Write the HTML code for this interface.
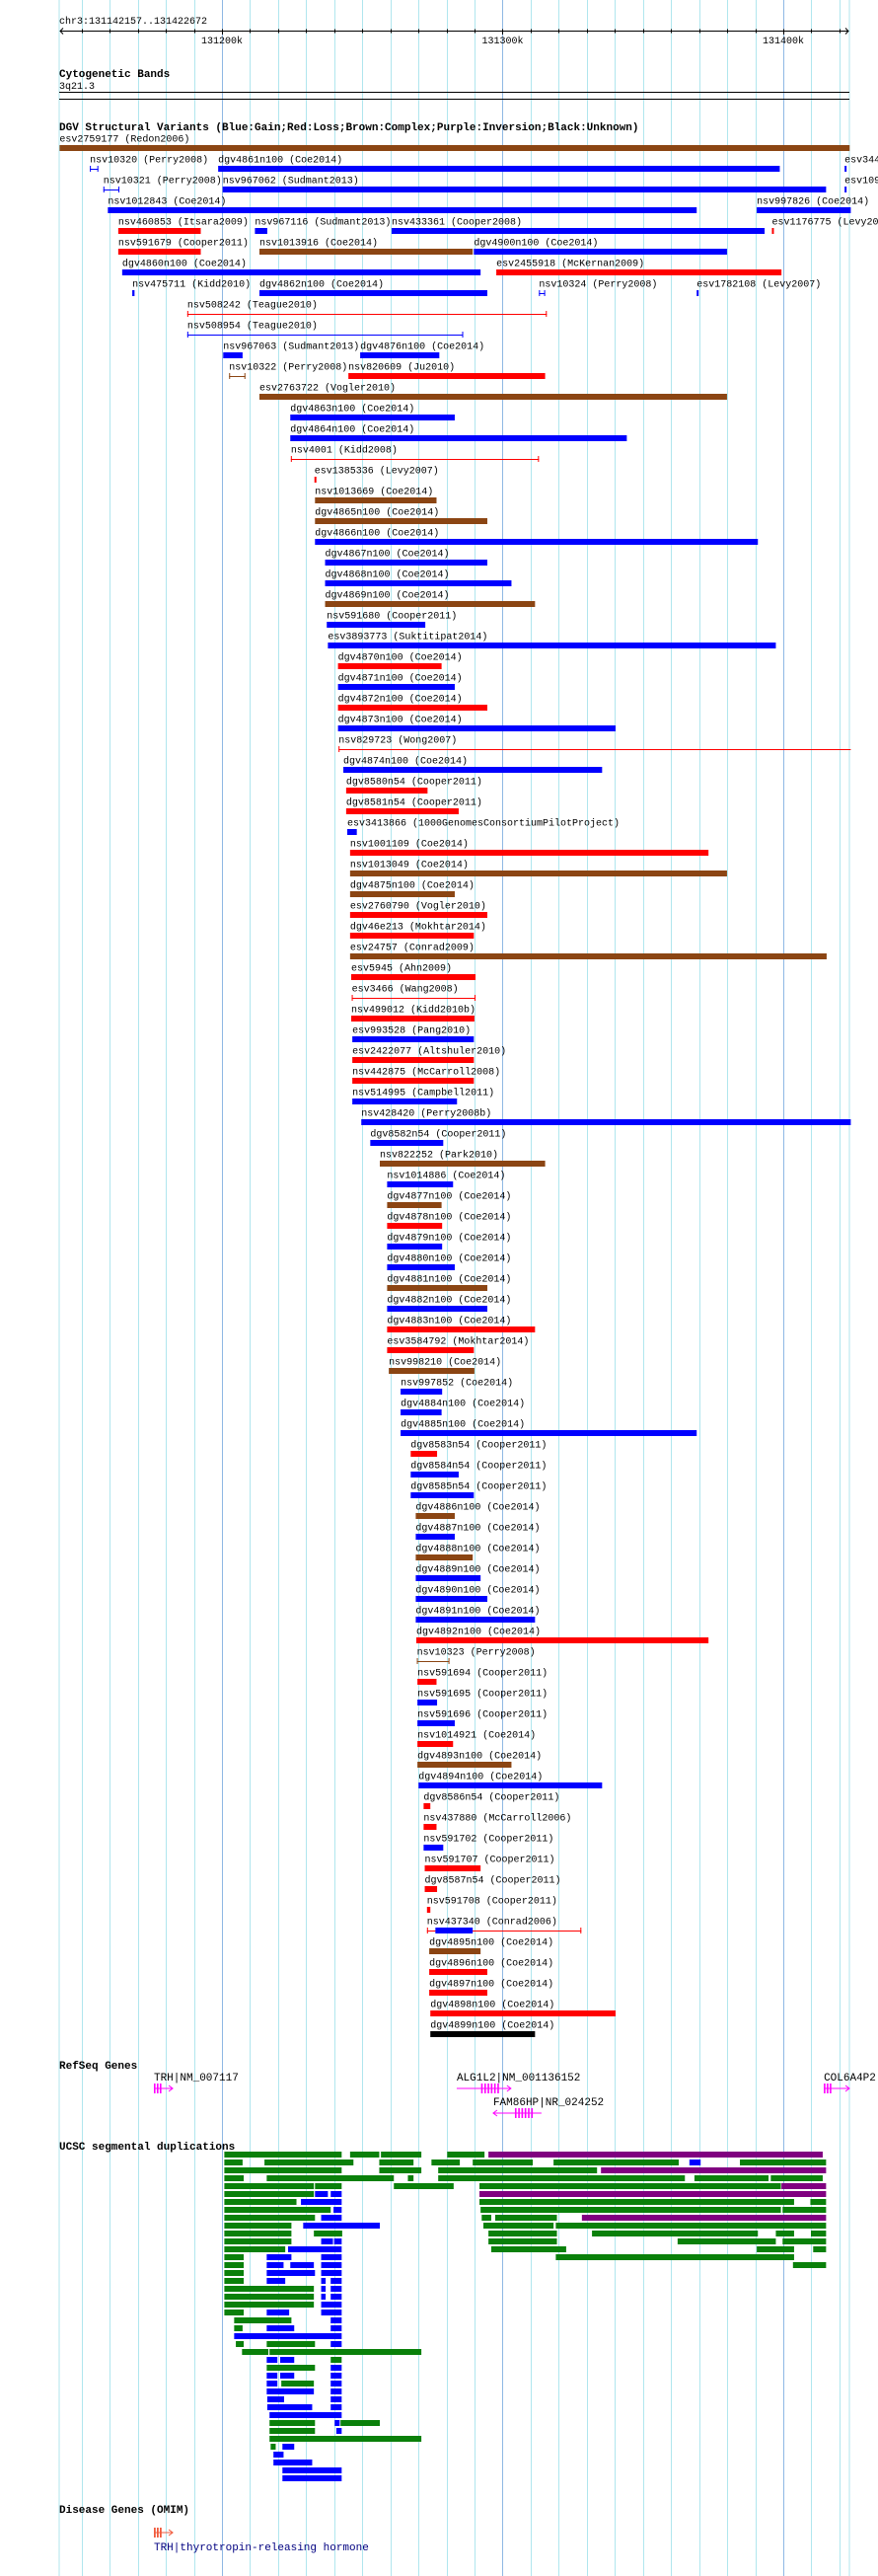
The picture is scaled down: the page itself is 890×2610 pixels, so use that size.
<!DOCTYPE html>
<html><head><meta charset="utf-8"><title>DGV browser view chr3:131142157..131422672</title>
<style>
html,body{margin:0;padding:0;background:#fff;}
svg{display:block;}
text{font-family:"Liberation Mono",monospace;font-size:10px;fill:#000;}
.t{font-weight:bold;font-size:11px;}
</style></head>
<body>
<svg id="chart" width="890" height="2610" viewBox="0 0 890 2610" xmlns="http://www.w3.org/2000/svg">
<g id="grid"></g>
<g id="axis"></g>
<text x="60" y="24">chr3:131142157..131422672</text>
<text class="t" x="60" y="78">Cytogenetic Bands</text>
<text x="60" y="90">3q21.3</text>
<line x1="60" y1="93.5" x2="861" y2="93.5" stroke="#000"/>
<line x1="60" y1="100.5" x2="861" y2="100.5" stroke="#000"/>
<text class="t" x="60" y="132">DGV Structural Variants (Blue:Gain;Red:Loss;Brown:Complex;Purple:Inversion;Black:Unknown)</text>
<g id="dgv"></g>
<text class="t" x="60" y="2096">RefSeq Genes</text>
<g id="genes"></g>
<text class="t" x="60" y="2178">UCSC segmental duplications</text>
<g id="segdup"></g>
<text class="t" x="60" y="2546">Disease Genes (OMIM)</text>
<g id="omim"></g>
</svg>
<script>
// ---- data (kb offsets from view start 131142.157 kb) ----
const viewStart = 131142.157;
const viewEnd = 131422.672;
const tickLabels = ["131200k","131300k","131400k"];
const tickValues = [131200,131300,131400];

// DGV variants: row index, name, start, end, color(b=gain,r=loss,n=complex), kind(bar/line)
const dgvRows = [0,1,1,1,2,2,2,3,3,4,4,4,4,5,5,5,6,6,7,7,7,7,8,9,10,10,11,11,12,13,14,15,16,17,18,19,20,21,22,23,24,25,26,27,28,29,30,31,32,33,34,35,36,37,38,39,40,41,42,43,44,45,46,47,48,49,50,51,52,53,54,55,56,57,58,59,60,61,62,63,64,65,66,67,68,69,70,71,72,73,74,75,76,77,78,79,80,81,82,83,84,85,86,86,87,88,89,90,91];
const dgvNames = ["esv2759177 (Redon2006)","nsv10320 (Perry2008)","dgv4861n100 (Coe2014)","esv344","nsv10321 (Perry2008)","nsv967062 (Sudmant2013)","esv109","nsv1012843 (Coe2014)","nsv997826 (Coe2014)","nsv460853 (Itsara2009)","nsv967116 (Sudmant2013)","nsv433361 (Cooper2008)","esv1176775 (Levy2007)","nsv591679 (Cooper2011)","nsv1013916 (Coe2014)","dgv4900n100 (Coe2014)","dgv4860n100 (Coe2014)","esv2455918 (McKernan2009)","nsv475711 (Kidd2010)","dgv4862n100 (Coe2014)","nsv10324 (Perry2008)","esv1782108 (Levy2007)","nsv508242 (Teague2010)","nsv508954 (Teague2010)","nsv967063 (Sudmant2013)","dgv4876n100 (Coe2014)","nsv10322 (Perry2008)","nsv820609 (Ju2010)","esv2763722 (Vogler2010)","dgv4863n100 (Coe2014)","dgv4864n100 (Coe2014)","nsv4001 (Kidd2008)","esv1385336 (Levy2007)","nsv1013669 (Coe2014)","dgv4865n100 (Coe2014)","dgv4866n100 (Coe2014)","dgv4867n100 (Coe2014)","dgv4868n100 (Coe2014)","dgv4869n100 (Coe2014)","nsv591680 (Cooper2011)","esv3893773 (Suktitipat2014)","dgv4870n100 (Coe2014)","dgv4871n100 (Coe2014)","dgv4872n100 (Coe2014)","dgv4873n100 (Coe2014)","nsv829723 (Wong2007)","dgv4874n100 (Coe2014)","dgv8580n54 (Cooper2011)","dgv8581n54 (Cooper2011)","esv3413866 (1000GenomesConsortiumPilotProject)","nsv1001109 (Coe2014)","nsv1013049 (Coe2014)","dgv4875n100 (Coe2014)","esv2760790 (Vogler2010)","dgv46e213 (Mokhtar2014)","esv24757 (Conrad2009)","esv5945 (Ahn2009)","esv3466 (Wang2008)","nsv499012 (Kidd2010b)","esv993528 (Pang2010)","esv2422077 (Altshuler2010)","nsv442875 (McCarroll2008)","nsv514995 (Campbell2011)","nsv428420 (Perry2008b)","dgv8582n54 (Cooper2011)","nsv822252 (Park2010)","nsv1014886 (Coe2014)","dgv4877n100 (Coe2014)","dgv4878n100 (Coe2014)","dgv4879n100 (Coe2014)","dgv4880n100 (Coe2014)","dgv4881n100 (Coe2014)","dgv4882n100 (Coe2014)","dgv4883n100 (Coe2014)","esv3584792 (Mokhtar2014)","nsv998210 (Coe2014)","nsv997852 (Coe2014)","dgv4884n100 (Coe2014)","dgv4885n100 (Coe2014)","dgv8583n54 (Cooper2011)","dgv8584n54 (Cooper2011)","dgv8585n54 (Cooper2011)","dgv4886n100 (Coe2014)","dgv4887n100 (Coe2014)","dgv4888n100 (Coe2014)","dgv4889n100 (Coe2014)","dgv4890n100 (Coe2014)","dgv4891n100 (Coe2014)","dgv4892n100 (Coe2014)","nsv10323 (Perry2008)","nsv591694 (Cooper2011)","nsv591695 (Cooper2011)","nsv591696 (Cooper2011)","nsv1014921 (Coe2014)","dgv4893n100 (Coe2014)","dgv4894n100 (Coe2014)","dgv8586n54 (Cooper2011)","nsv437880 (McCarroll2006)","nsv591702 (Cooper2011)","nsv591707 (Cooper2011)","dgv8587n54 (Cooper2011)","nsv591708 (Cooper2011)","nsv437340 (Conrad2006)","","dgv4895n100 (Coe2014)","dgv4896n100 (Coe2014)","dgv4897n100 (Coe2014)","dgv4898n100 (Coe2014)","dgv4899n100 (Coe2014)"];
const dgvStarts = [0,10.8,56.5,279.7,15.6,58.1,279.7,17.2,248.4,20.9,69.6,118.3,253.8,20.9,71.2,147.6,22.3,155.6,25.9,71.2,170.8,227.0,45.5,45.5,58.3,107.1,60.4,102.9,71.2,82.2,82.2,82.4,90.8,91.0,91.0,91.0,94.6,94.6,94.6,95.2,95.6,99.2,99.2,99.2,99.2,99.4,101.1,102.1,102.1,102.5,103.5,103.5,103.5,103.5,103.5,103.5,103.9,104.1,103.9,104.3,104.3,104.3,104.3,107.5,110.7,114.1,116.7,116.7,116.7,116.7,116.7,116.7,116.7,116.7,116.7,117.3,121.5,121.5,121.5,125.1,125.1,125.1,126.9,126.9,126.9,126.9,126.9,126.9,127.1,127.3,127.5,127.5,127.5,127.5,127.5,127.9,129.7,129.7,129.7,130.1,130.1,130.9,130.9,133.9,131.7,131.7,131.7,132.1,132.1];
const dgvEnds = [281.5,13.8,256.6,280.3,21.3,273.1,280.3,227.0,281.9,50.3,74.0,251.2,254.4,50.3,147.2,237.8,150.0,257.2,26.7,152.4,173.0,227.6,173.6,143.8,65.2,135.3,66.2,173.0,237.8,140.8,202.1,170.8,91.4,134.3,152.4,248.8,152.4,161.0,169.4,130.3,255.2,136.1,140.8,152.4,198.1,281.9,193.3,131.1,142.2,105.9,231.2,237.8,140.8,152.4,147.6,273.3,148.2,148.2,147.8,147.6,147.6,147.6,141.6,281.9,136.7,173.0,140.2,136.1,136.3,136.3,140.8,152.4,152.4,169.4,147.6,147.8,136.3,136.1,227.0,134.5,142.2,147.6,140.8,140.8,147.2,150.0,152.4,169.4,231.2,138.9,134.3,134.5,140.8,140.2,161.0,193.3,132.1,134.3,136.7,150.0,134.5,132.1,185.9,147.2,150.0,152.4,152.4,198.1,169.4];
const dgvColors = "nbbbbbbbbrbbrrnbbrbbbbrbbbnrnbbrrnnbbbnbbrbrbrbrrbrnnrrnrrrbrrbbbnbnrbbnbrrnbbbrbbnbnbbbrnrbbrnbrrbrrrrbnrrr";
const dgvKinds = ["bar","line","bar","bar","line","bar","bar","bar","bar","bar","bar","bar","bar","bar","bar","bar","bar","bar","bar","bar","line","bar","line","line","bar","bar","line","bar","bar","bar","bar","line","bar","bar","bar","bar","bar","bar","bar","bar","bar","bar","bar","bar","bar","lineL","bar","bar","bar","bar","bar","bar","bar","bar","bar","bar","bar","line","bar","bar","bar","bar","bar","bar","bar","bar","bar","bar","bar","bar","bar","bar","bar","bar","bar","bar","bar","bar","bar","bar","bar","bar","bar","bar","bar","bar","bar","bar","bar","line","bar","bar","bar","bar","bar","bar","bar","bar","bar","bar","bar","bar","line","bar","bar","bar","bar","bar","bar"];

// Segmental duplications: row, start, end, color (g=green,b=blue,p=purple)
const segRows = [0,0,0,0,0, 1,1,1,1,1,1,1,1, 2,2,2,2, 3,3,3,3,3,3, 4,4,4,4,4, 5,5,5,5, 6,6,6,6, 7,7,7,7, 8,8,8,8,8, 9,9,9,9, 10,10,10,10,10,10, 11,11,11,11,11,11, 12,12,12,12,12, 13,13,13,13, 14,14,14,14,14, 15,15,15, 16,16,16,16, 17,17,17, 18,18,18, 19,19, 20,20,20, 21,21, 22,22,22, 23, 24,24,24, 25,25, 26,26,26, 27,27, 28,28,28, 29,29,29, 30,30, 31,31, 32,32, 33, 34,34,34, 35,35, 36, 37,37, 38, 39, 40, 41];
const segStarts = [58.7,103.5,114.5,138.1,152.8, 58.7,73.0,113.9,132.5,147.2,176.0,224.4,242.4, 58.7,113.9,134.9,192.9, 58.7,73.8,124.1,134.9,226.2,253.4, 58.7,91.0,119.1,149.6,257.2, 58.7,91.0,96.6,149.6, 58.7,86.0,149.6,267.5, 58.7,97.6,150.0,257.6, 58.7,93.2,150.4,155.2,186.1, 58.7,86.8,151.0,176.8, 58.7,90.6,152.8,189.7,255.2,267.7, 58.7,93.2,97.8,152.8,220.2,257.6, 58.7,81.4,153.8,248.4,268.5, 58.7,73.8,93.2,176.8, 58.7,73.8,82.2,93.2,261.3, 58.7,73.8,93.2, 58.7,73.8,93.2,96.6, 58.7,93.2,96.6, 58.7,93.2,96.6, 58.7,93.2, 58.7,73.8,93.2, 62.2,96.6, 62.2,73.8,96.6, 62.2, 62.8,73.8,96.6, 65.0,74.8, 73.8,78.6,96.6, 73.8,96.6, 73.8,78.6,96.6, 73.8,79.0,96.6, 73.8,96.6, 74.0,96.6, 74.0,96.6, 74.8, 74.8,98.0,100.1, 74.8,98.6, 74.8, 75.2,79.4, 76.2, 76.2, 79.4, 79.4];
const segEnds = [100.5,113.9,128.9,151.4,271.9, 65.2,104.7,126.1,142.6,168.6,220.6,228.4,273.1, 100.5,128.9,191.5,273.1, 65.6,119.1,126.1,222.8,252.6,271.9, 90.6,100.5,140.4,257.0,273.1, 90.6,95.6,100.5,273.1, 84.4,100.5,261.7,273.1, 96.6,100.5,257.0,273.1, 91.0,100.5,153.8,177.2,273.1, 82.6,114.1,176.0,273.1, 82.6,100.7,177.2,248.8,261.7,273.1, 82.6,97.4,100.5,177.2,255.2,273.1, 80.4,100.5,180.5,261.7,273.1, 65.6,82.6,100.5,261.7, 65.6,79.8,90.6,100.5,273.1, 65.6,91.0,100.5, 65.6,80.4,94.8,100.5, 90.6,94.8,100.5, 90.6,94.8,100.5, 90.6,100.5, 65.6,81.8,100.5, 82.6,100.5, 65.2,83.6,100.5, 100.5, 65.6,91.0,100.5, 74.4,128.9, 77.6,83.6,100.5, 91.0,100.5, 77.6,83.6,100.5, 77.6,90.6,100.5, 90.6,100.5, 80.0,100.5, 90.0,100.5, 100.5, 91.0,99.8,114.1, 91.0,100.5, 128.9, 77.0,83.6, 79.8, 90.0, 100.5, 100.5];
const segColors = "ggggp"+"ggggggbg"+"gggp"+"gggggg"+"ggggp"+"gbbp"+"gbgg"+"gbgg"+"gbggp"+"gbgg"+"gggggg"+"gbbggg"+"gbggg"+"gbbg"+"gbbbg"+"gbb"+"gbbb"+"gbb"+"gbb"+"gb"+"gbb"+"gb"+"gbb"+"b"+"ggb"+"gg"+"bbg"+"gb"+"bbb"+"bgb"+"bb"+"bb"+"bb"+"b"+"gbg"+"gb"+"g"+"gb"+"b"+"b"+"b"+"b";

// RefSeq genes: name, start, end, label row, strand
const geneNames = ["TRH|NM_007117","ALG1L2|NM_001136152","FAM86HP|NR_024252","COL6A4P2|"];
const geneStarts = [33.6,141.5,154.5,272.3];
const geneEnds = [40.3,160.8,171.7,281.4];
const geneRows = [0,0,1,0];
const geneStrands = ["+","+","-","+"];

// ---- scales ----
const X0 = 60.4, PXKB = 2.845;
function xs(kb){ return X0 + kb*PXKB; }
function xg(absKb){ return X0 + (absKb - viewStart)*PXKB; }
const NS = "http://www.w3.org/2000/svg";
function mk(tag, attrs, parent){
  const e = document.createElementNS(NS, tag);
  for (const k in attrs) e.setAttribute(k, attrs[k]);
  parent.appendChild(e);
  return e;
}
const colorMap = {b:"#0000ff", r:"#ff0000", n:"#8b4513", g:"#0a800a", p:"#800080"};

// grid
const grid = document.getElementById("grid");
const gxs = [60, 861];
for (let k = 131150; k <= 131420; k += 10) gxs.push(Math.round(xg(k)) + 0.5);
gxs.forEach((x, i) => {
  const major = tickValues.some(v => Math.abs(xg(v) - x) < 1);
  const l = mk("line", {x1:x, y1:0, x2:x, y2:2610, stroke: major ? "#8fb8e4" : "#b0e6ee", "stroke-width":1}, grid);
  
  
});

// axis
const axis = document.getElementById("axis");
const al = mk("line", {x1:61, y1:31.5, x2:860, y2:31.5, stroke:"#000"}, axis);


const arr = mk("path", {d:"M64,28.5 L61,31.5 L64,34.5 M857,28.5 L860,31.5 L857,34.5", stroke:"#000", fill:"none"}, axis);


for (let k = 131150; k <= 131420; k += 10) {
  const x = Math.round(xg(k)) + 0.5;
  const major = tickValues.indexOf(k) >= 0;
  const t = mk("line", {x1:x, y1:29.5, x2:x, y2: major ? 35 : 33.5, stroke:"#000"}, axis);
  
  
}
tickValues.forEach((v, i) => {
  const t = mk("text", {x: xg(v), y: 44, "text-anchor":"middle"}, axis);
  t.textContent = tickLabels[i];
  
  
});

// DGV
const dgv = document.getElementById("dgv");
for (let i = 0; i < dgvNames.length; i++) {
  const r = dgvRows[i];
  const x1 = xs(dgvStarts[i]), x2 = Math.max(xs(dgvEnds[i]), x1 + 2);
  const col = colorMap[dgvColors[i]];
  const yb = 147 + r*21;
  if (dgvNames[i]) {
    const t = mk("text", {x: x1, y: 143.5 + r*21}, dgv);
    t.textContent = dgvNames[i];
    
    
  }
  const g = mk("g", {}, dgv);
  
  
  const k = dgvKinds[i];
  if (k === "bar") {
    mk("rect", {x:x1, y:yb, width:x2-x1, height:6, fill:col}, g);
  } else {
    mk("line", {x1:x1, y1:yb+3.5, x2:x2, y2:yb+3.5, stroke:col}, g);
    mk("line", {x1:x1+0.5, y1:yb, x2:x1+0.5, y2:yb+6, stroke:col}, g);
    if (k === "line") mk("line", {x1:x2-0.5, y1:yb, x2:x2-0.5, y2:yb+6, stroke:col}, g);
  }
}

// RefSeq genes
const genes = document.getElementById("genes");
geneNames.forEach((n, i) => {
  const x1 = xs(geneStarts[i]), x2 = xs(geneEnds[i]);
  const ly = 2108 + geneRows[i]*25, gy = 2116 + geneRows[i]*25;
  const t = mk("text", {x: x1, y: ly, style:"font-size:11px"}, genes);
  t.textContent = n;
  
  
  const g = mk("g", {stroke:"#ff00ff", fill:"#ff00ff"}, genes);
  
  
  mk("line", {x1:x1, y1:gy, x2:x2, y2:gy, "stroke-width":1}, g);
  const w = x2 - x1;
  const nEx = w > 30 ? 6 : 3;
  for (let e = 0; e < nEx; e++) {
    const ex = w > 30 ? x1 + w*0.45 + e*3.3 : x1 + e*3;
    mk("rect", {x: ex, y: gy-5, width: 1.6, height: 10, stroke:"none"}, g);
  }
  if (geneStrands[i] === "+") mk("path", {d:`M${x2-4},${gy-3} L${x2},${gy} L${x2-4},${gy+3}`, fill:"none"}, g);
  else mk("path", {d:`M${x1+4},${gy-3} L${x1},${gy} L${x1+4},${gy+3}`, fill:"none"}, g);
});

// Segmental duplications
const seg = document.getElementById("segdup");
for (let i = 0; i < segRows.length; i++) {
  const x1 = xs(segStarts[i]), x2 = xs(segEnds[i]);
  const r = mk("rect", {x:x1, y:2180 + segRows[i]*8, width: Math.max(x2-x1, 2), height:6, fill: colorMap[segColors[i]]}, seg);
  
  
}

// OMIM
const omim = document.getElementById("omim");
const og = mk("g", {stroke:"#f05a3c", fill:"#f05a3c"}, omim);


const ox1 = xs(geneStarts[0]), ox2 = xs(geneEnds[0]);
mk("line", {x1:ox1, y1:2566, x2:ox2, y2:2566}, og);
for (let e = 0; e < 3; e++) mk("rect", {x: ox1 + e*3, y: 2561, width: 1.8, height: 10, stroke:"none"}, og);
mk("path", {d:`M${ox2-4},2563 L${ox2},2566 L${ox2-4},2569`, fill:"none"}, og);
const ot = mk("text", {x: ox1, y: 2584, style:"fill:#000080;font-size:11px"}, omim);
ot.textContent = "TRH|thyrotropin-releasing hormone";


</script>
</body></html>
